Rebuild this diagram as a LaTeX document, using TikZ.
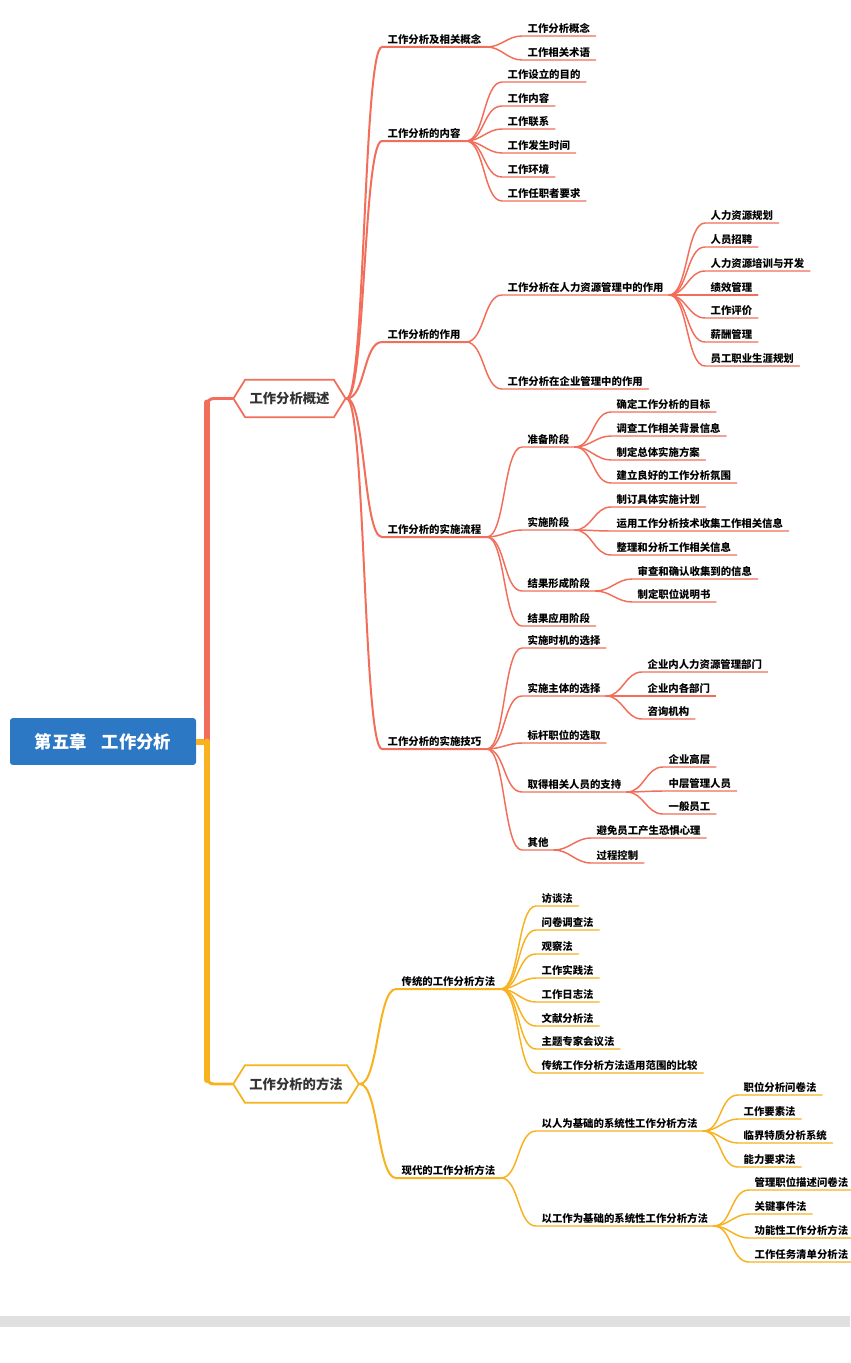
\documentclass[tikz,border=0pt]{standalone}
\usepackage{fontspec}
\setmainfont{Noto Sans CJK SC}
\usetikzlibrary{shapes.symbols}

\definecolor{mapred}{RGB}{242,110,90}
\definecolor{maporange}{RGB}{247,178,30}
\definecolor{mapblue}{RGB}{44,120,196}

\begin{document}
\begin{tikzpicture}[x=0.75pt, y=-0.75pt, line cap=round,
      root/.style={fill=mapblue, rounded corners=2pt, text=white, font=\fontsize{13}{15}\selectfont\bfseries, minimum width=139.5pt, minimum height=35pt},
      topic/.style={signal, signal to=east and west, signal pointer angle=116, line width=1.3pt, fill=white, text=black!80, font=\fontsize{10}{12}\selectfont\bfseries, minimum height=28pt},
      leaf/.style={anchor=south west, font=\fontsize{7.8}{9}\selectfont\bfseries, inner xsep=4pt, inner ysep=1.5pt, text height=6pt, text depth=1pt},
      rl/.style={draw=mapred, line width=1.1pt},
      ol/.style={draw=maporange, line width=1.1pt},
      link/.style={out=0, in=180, max distance=14pt}]

    \useasboundingbox (0,0) rectangle (850,1363);
    \fill[white] (0,0) rectangle (850,1363);
    \fill[black!12] (0,1316) rectangle (850,1327);

    \node[root] (root) at (103,741.5) {第五章\hspace{0.85em}工作分析};
    \coordinate (fork) at (207,741.5);

    \node[topic, draw=mapred, minimum width=80pt]    (ov) at (289.5,398.5) {工作分析概述};
    \node[topic, draw=maporange, minimum width=91.5pt] (me) at (296,1084)  {工作分析的方法};

    % trunk
    \draw[draw=maporange, line width=4.5pt, line cap=butt] (root.east) -- (fork);
    \draw[draw=mapred, line width=4.5pt] (fork) -- ([yshift=-3pt]fork |- ov.west);
    \draw[draw=mapred, line width=2.2pt, rounded corners=5pt] ([yshift=-14pt]fork |- ov.west) |- (ov.west);
    \draw[draw=maporange, line width=4.5pt] (fork) -- ([yshift=3pt]fork |- me.west);
    \draw[draw=maporange, line width=2.2pt, rounded corners=5pt] ([yshift=14pt]fork |- me.west) |- (me.west);

    % overview: second level
    \node[leaf] (ov1) at (382,47)  {工作分析及相关概念};
    \node[leaf] (ov2) at (382,141) {工作分析的内容};
    \node[leaf] (ov3) at (382,342) {工作分析的作用};
    \node[leaf] (ov4) at (382,537) {工作分析的实施流程};
    \node[leaf] (ov5) at (382,749) {工作分析的实施技巧};

    \draw[rl, line width=1.5pt] (ov.east) to[link] (ov1.south west) -- (ov1.south east);
    \draw[rl, line width=1.5pt] (ov.east) to[link] (ov2.south west) -- (ov2.south east);
    \draw[rl, line width=1.5pt] (ov.east) to[link] (ov3.south west) -- (ov3.south east);
    \draw[rl, line width=1.5pt] (ov.east) to[link] (ov4.south west) -- (ov4.south east);
    \draw[rl, line width=1.5pt] (ov.east) to[link] (ov5.south west) -- (ov5.south east);

    % concepts
    \node[leaf] (ov1a) at (522,36) {工作分析概念};
    \node[leaf] (ov1b) at (522,60) {工作相关术语};
    \draw[rl] (ov1.south east) to[link] (ov1a.south west) -- (ov1a.south east);
    \draw[rl] (ov1.south east) to[link] (ov1b.south west) -- (ov1b.south east);

    % contents
    \node[leaf] (ov2a) at (502,82)  {工作设立的目的};
    \node[leaf] (ov2b) at (502,106) {工作内容};
    \node[leaf] (ov2c) at (502,129) {工作联系};
    \node[leaf] (ov2d) at (502,153) {工作发生时间};
    \node[leaf] (ov2e) at (502,177) {工作环境};
    \node[leaf] (ov2f) at (502,201) {工作任职者要求};
    \draw[rl] (ov2.south east) to[link] (ov2a.south west) -- (ov2a.south east);
    \draw[rl] (ov2.south east) to[link] (ov2b.south west) -- (ov2b.south east);
    \draw[rl] (ov2.south east) to[link] (ov2c.south west) -- (ov2c.south east);
    \draw[rl] (ov2.south east) to[link] (ov2d.south west) -- (ov2d.south east);
    \draw[rl] (ov2.south east) to[link] (ov2e.south west) -- (ov2e.south east);
    \draw[rl] (ov2.south east) to[link] (ov2f.south west) -- (ov2f.south east);

    % roles
    \node[leaf] (ov3a) at (502,295) {工作分析在人力资源管理中的作用};
    \node[leaf] (ov3b) at (502,389) {工作分析在企业管理中的作用};
    \draw[rl] (ov3.south east) to[link] (ov3a.south west) -- (ov3a.south east);
    \draw[rl] (ov3.south east) to[link] (ov3b.south west) -- (ov3b.south east);

    \node[leaf] (ov3a1) at (705,223) {人力资源规划};
    \node[leaf] (ov3a2) at (705,247) {人员招聘};
    \node[leaf] (ov3a3) at (705,271) {人力资源培训与开发};
    \node[leaf] (ov3a4) at (705,295) {绩效管理};
    \node[leaf] (ov3a5) at (705,318) {工作评价};
    \node[leaf] (ov3a6) at (705,342) {薪酬管理};
    \node[leaf] (ov3a7) at (705,366) {员工职业生涯规划};
    \draw[rl] (ov3a.south east) to[link] (ov3a1.south west) -- (ov3a1.south east);
    \draw[rl] (ov3a.south east) to[link] (ov3a2.south west) -- (ov3a2.south east);
    \draw[rl] (ov3a.south east) to[link] (ov3a3.south west) -- (ov3a3.south east);
    \draw[rl] (ov3a.south east) to[link] (ov3a4.south west) -- (ov3a4.south east);
    \draw[rl] (ov3a.south east) to[link] (ov3a5.south west) -- (ov3a5.south east);
    \draw[rl] (ov3a.south east) to[link] (ov3a6.south west) -- (ov3a6.south east);
    \draw[rl] (ov3a.south east) to[link] (ov3a7.south west) -- (ov3a7.south east);

    % process
    \node[leaf] (ov4a) at (522,447) {准备阶段};
    \node[leaf] (ov4b) at (522,530) {实施阶段};
    \node[leaf] (ov4c) at (522,591) {结果形成阶段};
    \node[leaf] (ov4d) at (522,626) {结果应用阶段};
    \draw[rl] (ov4.south east) to[link] (ov4a.south west) -- (ov4a.south east);
    \draw[rl] (ov4.south east) to[link] (ov4b.south west) -- (ov4b.south east);
    \draw[rl] (ov4.south east) to[link] (ov4c.south west) -- (ov4c.south east);
    \draw[rl] (ov4.south east) to[link] (ov4d.south west) -- (ov4d.south east);

    \node[leaf] (ov4a1) at (611,412) {确定工作分析的目标};
    \node[leaf] (ov4a2) at (611,436) {调查工作相关背景信息};
    \node[leaf] (ov4a3) at (611,460) {制定总体实施方案};
    \node[leaf] (ov4a4) at (611,483) {建立良好的工作分析氛围};
    \draw[rl] (ov4a.south east) to[link] (ov4a1.south west) -- (ov4a1.south east);
    \draw[rl] (ov4a.south east) to[link] (ov4a2.south west) -- (ov4a2.south east);
    \draw[rl] (ov4a.south east) to[link] (ov4a3.south west) -- (ov4a3.south east);
    \draw[rl] (ov4a.south east) to[link] (ov4a4.south west) -- (ov4a4.south east);

    \node[leaf] (ov4b1) at (611,507) {制订具体实施计划};
    \node[leaf] (ov4b2) at (611,531) {运用工作分析技术收集工作相关信息};
    \node[leaf] (ov4b3) at (611,555) {整理和分析工作相关信息};
    \draw[rl] (ov4b.south east) to[link] (ov4b1.south west) -- (ov4b1.south east);
    \draw[rl] (ov4b.south east) to[link] (ov4b2.south west) -- (ov4b2.south east);
    \draw[rl] (ov4b.south east) to[link] (ov4b3.south west) -- (ov4b3.south east);

    \node[leaf] (ov4c1) at (632,579) {审查和确认收集到的信息};
    \node[leaf] (ov4c2) at (632,602) {制定职位说明书};
    \draw[rl] (ov4c.south east) to[link] (ov4c1.south west) -- (ov4c1.south east);
    \draw[rl] (ov4c.south east) to[link] (ov4c2.south west) -- (ov4c2.south east);

    % skills
    \node[leaf] (ov5a) at (522,648) {实施时机的选择};
    \node[leaf] (ov5b) at (522,696) {实施主体的选择};
    \node[leaf] (ov5c) at (522,743) {标杆职位的选取};
    \node[leaf] (ov5d) at (522,792) {取得相关人员的支持};
    \node[leaf] (ov5e) at (522,850) {其他};
    \draw[rl] (ov5.south east) to[link] (ov5a.south west) -- (ov5a.south east);
    \draw[rl] (ov5.south east) to[link] (ov5b.south west) -- (ov5b.south east);
    \draw[rl] (ov5.south east) to[link] (ov5c.south west) -- (ov5c.south east);
    \draw[rl] (ov5.south east) to[link] (ov5d.south west) -- (ov5d.south east);
    \draw[rl] (ov5.south east) to[link] (ov5e.south west) -- (ov5e.south east);

    \node[leaf] (ov5b1) at (642,672) {企业内人力资源管理部门};
    \node[leaf] (ov5b2) at (642,696) {企业内各部门};
    \node[leaf] (ov5b3) at (642,719) {咨询机构};
    \draw[rl] (ov5b.south east) to[link] (ov5b1.south west) -- (ov5b1.south east);
    \draw[rl] (ov5b.south east) to[link] (ov5b2.south west) -- (ov5b2.south east);
    \draw[rl] (ov5b.south east) to[link] (ov5b3.south west) -- (ov5b3.south east);

    \node[leaf] (ov5d1) at (663,767) {企业高层};
    \node[leaf] (ov5d2) at (663,791) {中层管理人员};
    \node[leaf] (ov5d3) at (663,814) {一般员工};
    \draw[rl] (ov5d.south east) to[link] (ov5d1.south west) -- (ov5d1.south east);
    \draw[rl] (ov5d.south east) to[link] (ov5d2.south west) -- (ov5d2.south east);
    \draw[rl] (ov5d.south east) to[link] (ov5d3.south west) -- (ov5d3.south east);

    \node[leaf] (ov5e1) at (591,838) {避免员工产生恐惧心理};
    \node[leaf] (ov5e2) at (591,863) {过程控制};
    \draw[rl] (ov5e.south east) to[link] (ov5e1.south west) -- (ov5e1.south east);
    \draw[rl] (ov5e.south east) to[link] (ov5e2.south west) -- (ov5e2.south east);

    % methods: second level
    \node[leaf] (me1) at (396,989)  {传统的工作分析方法};
    \node[leaf] (me2) at (396,1178) {现代的工作分析方法};
    \draw[ol, line width=1.5pt] (me.east) to[link] (me1.south west) -- (me1.south east);
    \draw[ol, line width=1.5pt] (me.east) to[link] (me2.south west) -- (me2.south east);

    % traditional
    \node[leaf] (me1a) at (536,906)  {访谈法};
    \node[leaf] (me1b) at (536,930)  {问卷调查法};
    \node[leaf] (me1c) at (536,954)  {观察法};
    \node[leaf] (me1d) at (536,978)  {工作实践法};
    \node[leaf] (me1e) at (536,1002) {工作日志法};
    \node[leaf] (me1f) at (536,1026) {文献分析法};
    \node[leaf] (me1g) at (536,1049) {主题专家会议法};
    \node[leaf] (me1h) at (536,1073) {传统工作分析方法适用范围的比较};
    \draw[ol] (me1.south east) to[link] (me1a.south west) -- (me1a.south east);
    \draw[ol] (me1.south east) to[link] (me1b.south west) -- (me1b.south east);
    \draw[ol] (me1.south east) to[link] (me1c.south west) -- (me1c.south east);
    \draw[ol] (me1.south east) to[link] (me1d.south west) -- (me1d.south east);
    \draw[ol] (me1.south east) to[link] (me1e.south west) -- (me1e.south east);
    \draw[ol] (me1.south east) to[link] (me1f.south west) -- (me1f.south east);
    \draw[ol] (me1.south east) to[link] (me1g.south west) -- (me1g.south east);
    \draw[ol] (me1.south east) to[link] (me1h.south west) -- (me1h.south east);

    % modern
    \node[leaf] (me2a) at (536,1131) {以人为基础的系统性工作分析方法};
    \node[leaf] (me2b) at (536,1226) {以工作为基础的系统性工作分析方法};
    \draw[ol] (me2.south east) to[link] (me2a.south west) -- (me2a.south east);
    \draw[ol] (me2.south east) to[link] (me2b.south west) -- (me2b.south east);

    \node[leaf] (me2a1) at (738,1095) {职位分析问卷法};
    \node[leaf] (me2a2) at (738,1119) {工作要素法};
    \node[leaf] (me2a3) at (738,1143) {临界特质分析系统};
    \node[leaf] (me2a4) at (738,1167) {能力要求法};
    \draw[ol] (me2a.south east) to[link] (me2a1.south west) -- (me2a1.south east);
    \draw[ol] (me2a.south east) to[link] (me2a2.south west) -- (me2a2.south east);
    \draw[ol] (me2a.south east) to[link] (me2a3.south west) -- (me2a3.south east);
    \draw[ol] (me2a.south east) to[link] (me2a4.south west) -- (me2a4.south east);

    \node[leaf] (me2b1) at (749,1190) {管理职位描述问卷法};
    \node[leaf] (me2b2) at (749,1214) {关键事件法};
    \node[leaf] (me2b3) at (749,1238) {功能性工作分析方法};
    \node[leaf] (me2b4) at (749,1262) {工作任务清单分析法};
    \draw[ol] (me2b.south east) to[link] (me2b1.south west) -- (me2b1.south east);
    \draw[ol] (me2b.south east) to[link] (me2b2.south west) -- (me2b2.south east);
    \draw[ol] (me2b.south east) to[link] (me2b3.south west) -- (me2b3.south east);
    \draw[ol] (me2b.south east) to[link] (me2b4.south west) -- (me2b4.south east);

\end{tikzpicture}
\end{document}
